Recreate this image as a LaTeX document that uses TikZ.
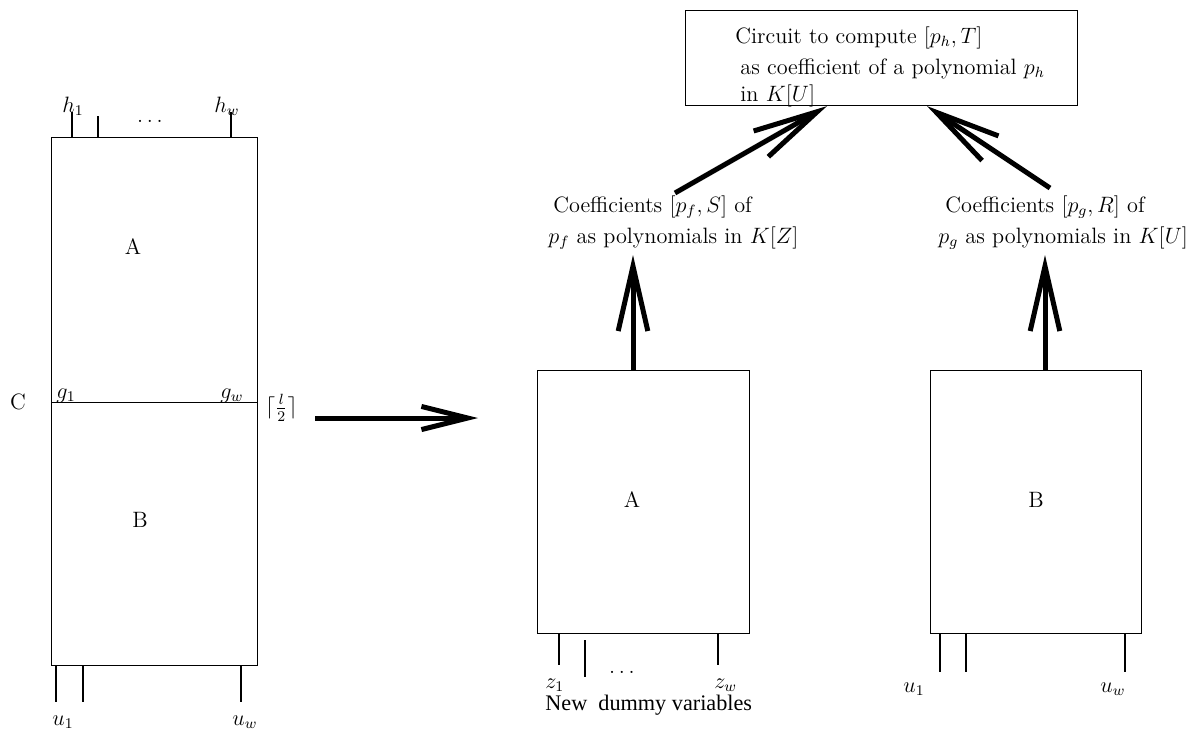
\documentclass[tikz,border=0pt,12pt]{standalone}
\usepackage{fontspec}
\newfontfamily\timesfont{Liberation Serif}
\usetikzlibrary{arrows.meta}

\begin{document}
\begin{tikzpicture}[x=0.54pt, y=-0.54pt,
    box/.style={draw, line width=0.6pt, anchor=north west, inner sep=0pt},
    pin/.style={line width=0.6pt},
    lbl/.style={inner sep=0pt, anchor=base west},
    bigarrow/.style={line width=2.7pt, -{Straight Barb[length=35pt, width=16pt, line width=2.7pt]}},
    sidearrow/.style={line width=2.7pt, -{Straight Barb[length=25pt, width=12.5pt, line width=2.7pt]}}]
    \useasboundingbox (0,0) rectangle (1198,733);

    % circuit C, cut in two halves
    \node[box, minimum width=111.2pt, minimum height=143.1pt] (CA) at (51,137) {};
    \node[box, minimum width=111.2pt, minimum height=142pt] (CB) at (51,402) {};
    \node (labC) at (18,402) {C};
    \node (labCA) at (133,247) {A};
    \node (labCB) at (140,520) {B};

    \draw[pin] (72,112) -- (72,137);
    \draw[pin] (98,116) -- (98,137);
    \draw[pin] (231,112) -- (231,137);
    \node[lbl] (h1) at (62,112) {$h_1$};
    \node[lbl] (hw) at (214,112) {$h_w$};
    \node[inner sep=0pt, anchor=base] (hdots) at (150,122) {$\ldots$};

    \node[lbl] (g1) at (56,398) {$g_1$};
    \node[lbl] (gw) at (220,398) {$g_w$};
    \node[inner sep=0pt, anchor=west] (half) at (265,408) {$\lceil\frac{l}{2}\rceil$};

    \draw[pin] (56,665) -- (56,702);
    \draw[pin] (83,665) -- (83,702);
    \draw[pin] (241,665) -- (241,702);
    \node[lbl] (u1) at (52,725) {$u_1$};
    \node[lbl] (uw) at (232,725) {$u_w$};

    \coordinate (from) at (315,418);
    \coordinate (to) at (478,418);
    \draw[sidearrow] (from) -- (to);

    % the two sub-circuits
    \node[box, minimum width=114.5pt, minimum height=142pt] (boxA) at (537,370) {};
    \node (labA) at (632,500) {A};
    \draw[pin] (559,633) -- (559,665);
    \draw[pin] (585,640) -- (585,677);
    \draw[pin] (718,633) -- (718,665);
    \node[lbl] (z1) at (545,688) {$z_1$};
    \node[inner sep=0pt, anchor=base] (zdots) at (622,673) {$\ldots$};
    \node[lbl] (zw) at (714,688) {$z_w$};
    \node[lbl] (dummy) at (545,710) {\timesfont New\enspace dummy variables};

    \node[box, minimum width=114pt, minimum height=142pt] (boxB) at (930,370) {};
    \node (labB) at (1036,500) {B};
    \draw[pin] (940,633) -- (940,672);
    \draw[pin] (966,633) -- (966,672);
    \draw[pin] (1125,633) -- (1125,672);
    \node[lbl] (v1) at (903,692) {$u_1$};
    \node[lbl] (vw) at (1100,692) {$u_w$};

    % coefficients
    \node[lbl] (cf1) at (553,212) {Coefficients $[p_f,S]$ of};
    \node[lbl] (cf2) at (548,243) {$p_f$ as polynomials in $K[Z]$};
    \node[lbl] (cg1) at (945,212) {Coefficients $[p_g,R]$ of};
    \node[lbl] (cg2) at (938,243) {$p_g$ as polynomials in $K[U]$};

    \coordinate (tA) at (633,255);
    \coordinate (tB) at (1045,255);
    \draw[bigarrow] (boxA.north -| tA) -- (tA);
    \draw[bigarrow] (boxB.north -| tB) -- (tB);

    % final circuit
    \node[box, minimum width=211.7pt, minimum height=51.3pt] (top) at (685,10) {};
    \node[lbl] (t1) at (735,43) {Circuit to compute $[p_h,T]$};
    \node[lbl] (t2) at (740,74) {as coefficient of a polynomial $p_h$};
    \node[lbl] (t3) at (740,101) {in $K[U]$};

    \coordinate (sA) at (675,193);
    \coordinate (sB) at (1050,188);
    \draw[bigarrow] (sA) -- (top.south -| 827,0);
    \draw[bigarrow] (sB) -- (top.south -| 927,0);
\end{tikzpicture}
\end{document}
